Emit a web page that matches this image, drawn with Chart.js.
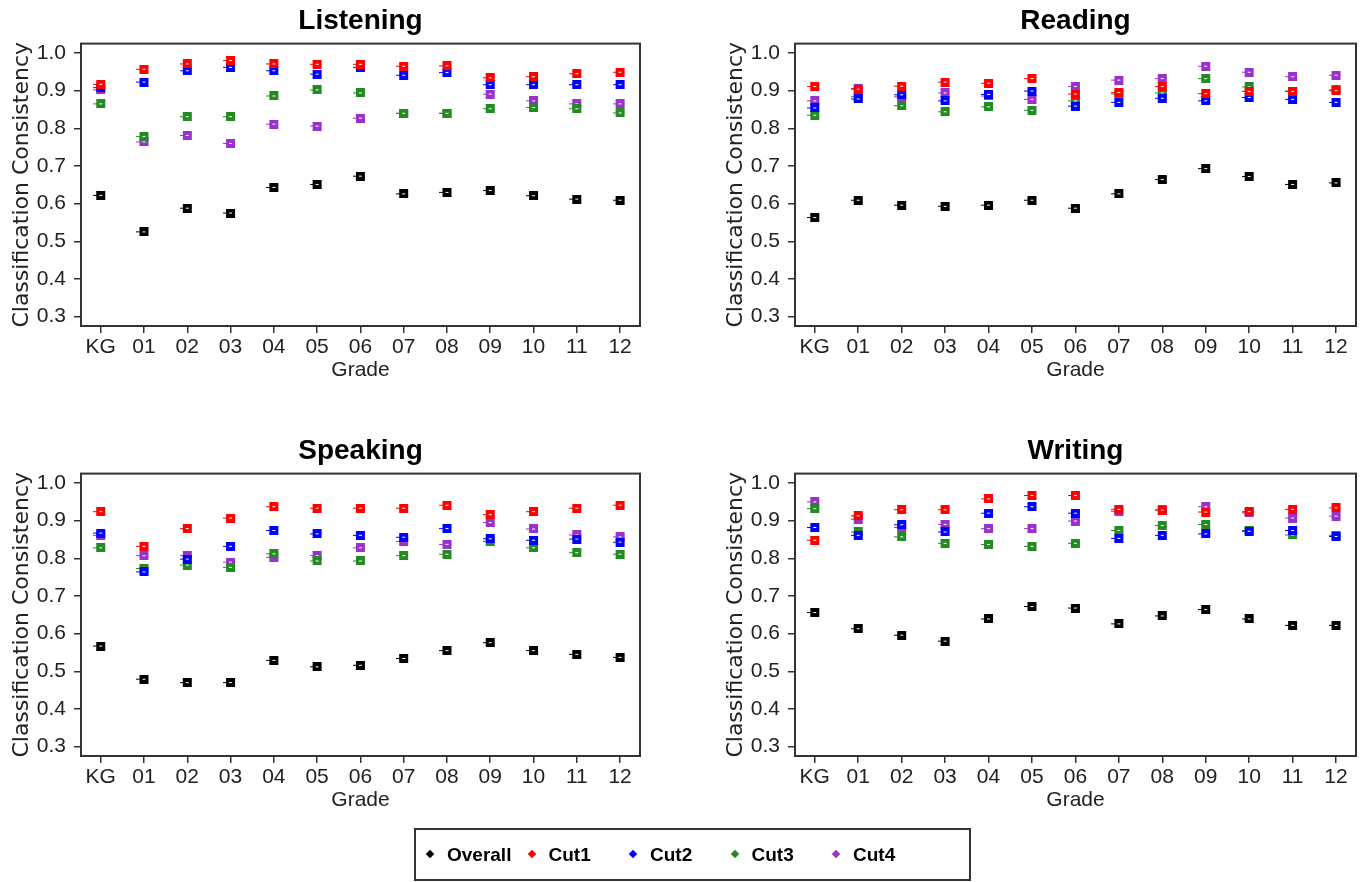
<!DOCTYPE html>
<html>
<head>
<meta charset="utf-8">
<script src="https://cdn.jsdelivr.net/npm/chart.js@4.4.1/dist/chart.umd.min.js"></script>
<style>
  body { margin: 0; background: #fff; width: 1368px; height: 882px; position: relative; overflow: hidden; }
  canvas { position: absolute; }
  #legend { position: absolute; left: 414px; top: 828px; width: 553px; height: 49px; border: 2px solid #333; font: bold 19px 'Liberation Sans', Arial, sans-serif; }
  .item { position: absolute; top: 0; height: 49px; line-height: 49px; }
  .item .mk { position: absolute; left: 7px; top: 21px; width: 6px; height: 6px; transform: rotate(45deg); }
  .item span { position: absolute; left: 27px; white-space: nowrap; }
</style>
</head>
<body>
<canvas id="listening" width="660" height="400" style="left:0;top:0"></canvas>
<canvas id="reading" width="654" height="400" style="left:714px;top:0"></canvas>
<canvas id="speaking" width="660" height="400" style="left:0;top:430px"></canvas>
<canvas id="writing" width="654" height="400" style="left:714px;top:430px"></canvas>
<div id="legend"></div>
<script>
var grades = ["KG", "01", "02", "03", "04", "05", "06", "07", "08", "09", "10", "11", "12"];
var seriesNames = ["Overall", "Cut1", "Cut2", "Cut3", "Cut4"];
var seriesColors = ["#000000", "#ff0000", "#0000ff", "#228b22", "#9932cc"];
var yTicks = [0.3, 0.4, 0.5, 0.6, 0.7, 0.8, 0.9, 1.0];

var listeningOverall = [0.622, 0.525, 0.588, 0.575, 0.643, 0.651, 0.673, 0.626, 0.630, 0.635, 0.621, 0.612, 0.609];
var listeningCut1 = [0.917, 0.957, 0.971, 0.980, 0.971, 0.970, 0.970, 0.965, 0.966, 0.934, 0.937, 0.945, 0.949];
var listeningCut2 = [0.908, 0.923, 0.953, 0.962, 0.953, 0.944, 0.962, 0.941, 0.948, 0.916, 0.916, 0.916, 0.916];
var listeningCut3 = [0.865, 0.778, 0.831, 0.831, 0.886, 0.902, 0.894, 0.840, 0.840, 0.852, 0.855, 0.852, 0.841];
var listeningCut4 = [0.902, 0.764, 0.781, 0.760, 0.811, 0.806, 0.827, 0.840, 0.840, 0.891, 0.873, 0.865, 0.865];

var readingOverall = [0.563, 0.609, 0.596, 0.593, 0.596, 0.609, 0.588, 0.626, 0.664, 0.693, 0.672, 0.651, 0.655];
var readingCut1 = [0.911, 0.904, 0.912, 0.923, 0.920, 0.932, 0.891, 0.895, 0.911, 0.892, 0.898, 0.898, 0.900];
var readingCut2 = [0.854, 0.878, 0.889, 0.873, 0.890, 0.899, 0.859, 0.869, 0.880, 0.873, 0.882, 0.877, 0.869];
var readingCut3 = [0.835, 0.884, 0.860, 0.844, 0.857, 0.848, 0.873, 0.891, 0.894, 0.932, 0.910, 0.899, 0.902];
var readingCut4 = [0.873, 0.906, 0.884, 0.894, 0.886, 0.877, 0.911, 0.928, 0.932, 0.965, 0.949, 0.937, 0.941];

var speakingOverall = [0.567, 0.479, 0.470, 0.470, 0.529, 0.512, 0.516, 0.534, 0.555, 0.576, 0.555, 0.545, 0.537];
var speakingCut1 = [0.924, 0.832, 0.879, 0.907, 0.937, 0.933, 0.933, 0.933, 0.941, 0.916, 0.924, 0.933, 0.941];
var speakingCut2 = [0.867, 0.764, 0.798, 0.832, 0.874, 0.865, 0.861, 0.856, 0.879, 0.852, 0.848, 0.851, 0.843];
var speakingCut3 = [0.828, 0.773, 0.782, 0.776, 0.812, 0.793, 0.793, 0.807, 0.811, 0.845, 0.828, 0.815, 0.811];
var speakingCut4 = [0.861, 0.807, 0.807, 0.790, 0.803, 0.807, 0.828, 0.845, 0.837, 0.895, 0.878, 0.862, 0.857];

var writingOverall = [0.656, 0.613, 0.596, 0.580, 0.639, 0.672, 0.668, 0.626, 0.647, 0.664, 0.639, 0.622, 0.622];
var writingCut1 = [0.848, 0.913, 0.929, 0.929, 0.958, 0.967, 0.967, 0.930, 0.928, 0.923, 0.924, 0.930, 0.934];
var writingCut2 = [0.882, 0.861, 0.889, 0.870, 0.920, 0.937, 0.920, 0.853, 0.861, 0.865, 0.872, 0.874, 0.858];
var writingCut3 = [0.932, 0.870, 0.857, 0.840, 0.837, 0.832, 0.840, 0.874, 0.887, 0.890, 0.874, 0.862, 0.861];
var writingCut4 = [0.950, 0.904, 0.882, 0.890, 0.879, 0.879, 0.899, 0.925, 0.929, 0.937, 0.921, 0.907, 0.912];

Chart.defaults.font.family = "'Liberation Sans', Arial, sans-serif";
Chart.defaults.color = '#222';

// little square marker with a white dot and a nub on the left
function makeMarker(color) {
    var c = document.createElement('canvas');
    c.width = 15;
    c.height = 9;
    var g = c.getContext('2d');
    g.fillStyle = color;
    g.fillRect(3, 0, 9, 9);
    g.fillRect(0, 4, 3, 1);
    g.fillStyle = '#fff';
    g.fillRect(6, 4, 3, 1);
    return c;
}
var markers = seriesColors.map(makeMarker);

var framePlugin = {
    id: 'frame',
    beforeDatasetsDraw: function (chart) {
        var a = chart.chartArea, ctx = chart.ctx;
        ctx.save();
        ctx.strokeStyle = '#333';
        ctx.lineWidth = 2;
        ctx.strokeRect(a.left, a.top, a.right - a.left, a.bottom - a.top);
        ctx.restore();
    }
};

function getConfig(title, series, padRight) {
    return {
        type: 'scatter',
        data: {
            datasets: series.map(function (values, s) {
                return {
                    label: seriesNames[s],
                    data: values.map(function (v, i) { return { x: i, y: v }; }),
                    pointStyle: markers[s],
                    pointRadius: 5,
                    pointHoverRadius: 5,
                    backgroundColor: seriesColors[s],
                    borderColor: seriesColors[s]
                };
            })
        },
        options: {
            responsive: false,
            animation: false,
            events: [],
            layout: { padding: { left: 0, right: padRight, top: 0, bottom: 0 } },
            plugins: {
                legend: { display: false },
                tooltip: { enabled: false },
                title: {
                    display: true,
                    text: title,
                    fullSize: false,
                    color: '#000',
                    font: { size: 28, weight: 'bold' },
                    padding: { top: 4, bottom: 6 }
                }
            },
            scales: {
                x: {
                    type: 'linear',
                    min: -0.455,
                    max: 12.46,
                    afterBuildTicks: function (scale) {
                        scale.ticks = grades.map(function (g, i) { return { value: i }; });
                    },
                    afterFit: function (scale) { scale.height = 74; },
                    ticks: {
                        autoSkip: false,
                        maxRotation: 0,
                        padding: 2,
                        font: { size: 21 },
                        callback: function (v) { return grades[v]; }
                    },
                    grid: { drawOnChartArea: false, drawTicks: true, tickLength: 7, color: '#333', lineWidth: 1.5 },
                    border: { display: false },
                    title: { display: true, text: 'Grade', font: { size: 21 }, padding: { top: 0, bottom: 17 } }
                },
                y: {
                    min: 0.275,
                    max: 1.025,
                    afterBuildTicks: function (scale) {
                        scale.ticks = yTicks.map(function (v) { return { value: v }; });
                    },
                    afterFit: function (scale) { scale.width = 81; },
                    ticks: {
                        padding: 8,
                        font: { size: 21 },
                        callback: function (v) { return v.toFixed(1); }
                    },
                    grid: { drawOnChartArea: false, drawTicks: true, tickLength: 7, color: '#333', lineWidth: 1.5 },
                    border: { display: false },
                    title: {
                        display: true,
                        text: 'Classification Consistency',
                        font: { family: "'DejaVu Sans', sans-serif", size: 22 },
                        padding: { top: 9, bottom: 0 }
                    }
                }
            }
        },
        plugins: [framePlugin]
    };
}

new Chart(document.getElementById('listening'), getConfig('Listening',
    [listeningOverall, listeningCut1, listeningCut2, listeningCut3, listeningCut4], 20));
new Chart(document.getElementById('reading'), getConfig('Reading',
    [readingOverall, readingCut1, readingCut2, readingCut3, readingCut4], 12));
new Chart(document.getElementById('speaking'), getConfig('Speaking',
    [speakingOverall, speakingCut1, speakingCut2, speakingCut3, speakingCut4], 20));
new Chart(document.getElementById('writing'), getConfig('Writing',
    [writingOverall, writingCut1, writingCut2, writingCut3, writingCut4], 12));

// legend below the panels
var legend = document.getElementById('legend');
seriesNames.forEach(function (name, s) {
    var item = document.createElement('div');
    item.className = 'item';
    item.style.left = (4 + s * 101.5) + 'px';
    item.innerHTML = '<div class="mk" style="background:' + seriesColors[s] + '"></div><span>' + name + '</span>';
    legend.appendChild(item);
});
</script>
</body>
</html>
